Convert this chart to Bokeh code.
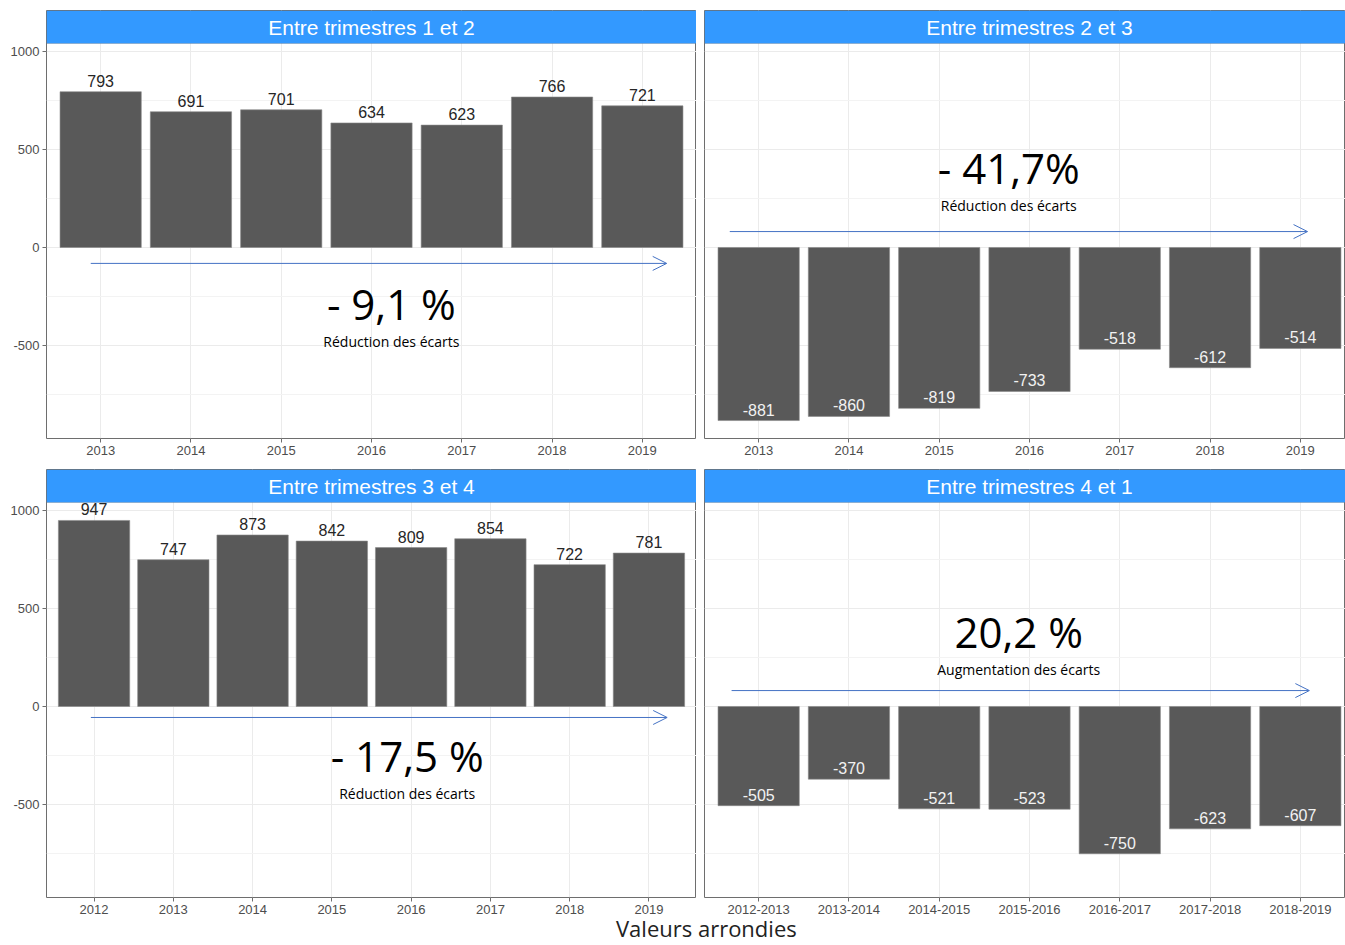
from bokeh.plotting import figure
from bokeh.models import (ColumnDataSource, FixedTicker, Range1d, BoxAnnotation,
                          Label, Arrow, OpenHead, Div)
from bokeh.layouts import column, row
from bokeh.embed import file_html
from bokeh.resources import INLINE
from bokeh.core.properties import value, field

# ---------------- data ----------------
years_12 = ["2013", "2014", "2015", "2016", "2017", "2018", "2019"]
values_12 = [793, 691, 701, 634, 623, 766, 721]

years_23 = ["2013", "2014", "2015", "2016", "2017", "2018", "2019"]
values_23 = [-881, -860, -819, -733, -518, -612, -514]

years_34 = ["2012", "2013", "2014", "2015", "2016", "2017", "2018", "2019"]
values_34 = [947, 747, 873, 842, 809, 854, 722, 781]

periods_41 = ["2012-2013", "2013-2014", "2014-2015", "2015-2016",
              "2016-2017", "2017-2018", "2018-2019"]
values_41 = [-505, -370, -521, -523, -750, -623, -607]

titles = ["Entre trimestres 1 et 2", "Entre trimestres 2 et 3",
          "Entre trimestres 3 et 4", "Entre trimestres 4 et 1"]
changes = ["- 9,1 %", "- 41,7%", "- 17,5 %", "20,2 %"]
captions = ["Réduction des écarts", "Réduction des écarts",
            "Réduction des écarts", "Augmentation des écarts"]
y_ticks = [-500, 0, 500, 1000]
y_tick_labels = ["-500", "0", "500", "1000"]
y_minor = [-750, -250, 250, 750]
footer = "Valeurs arrondies"

# hand-placed annotations (big text xy, caption xy, arrow x0, x1, y)
annots = [
    dict(big=(4.22, -285), cap=(4.22, -478), arrow=(0.89, 7.27, -81)),
    dict(big=(3.77, 407), cap=(3.77, 214), arrow=(0.68, 7.08, 81)),
    dict(big=(4.95, -249), cap=(4.95, -443), arrow=(0.96, 8.23, -56)),
    dict(big=(3.88, 382), cap=(3.88, 188), arrow=(0.70, 7.10, 81)),
]

# ---------------- styling ----------------
BAR = "#595959"
HEADER = "#3399ff"
BORDER = "#6e6e6e"
ARROW = "#4472c4"
GRID = "#ebebeb"
GRID_MINOR = "#f3f3f3"
TICK_TXT = "#4d4d4d"
FRAME_W = 650
RIGHT_FRAME_W = 641
PLOT_H = 395
HDR_H = 33

all_vals = values_12 + values_23 + values_34 + values_41
lo, hi = min(all_vals), max(all_vals)
pad = 0.05 * (hi - lo)
y0, y1 = lo - pad, hi + pad
hdr = (y1 - y0) * HDR_H / PLOT_H


def panel(cats, vals, title, change, caption, ann, left, top):
    n = len(cats)
    xs = list(range(1, n + 1))
    unit_px = FRAME_W / (n + 0.2)
    fw = FRAME_W if left else RIGHT_FRAME_W
    xend = 0.4 + fw / unit_px
    p = figure(frame_width=fw, frame_height=PLOT_H + HDR_H,
               x_range=Range1d(0.4, xend), y_range=Range1d(y0, y1 + hdr),
               output_backend="svg", toolbar_location=None, tools="",
               min_border_left=46 if left else 8, min_border_right=0,
               min_border_top=10 if top else 2,
               min_border_bottom=29 if top else 20,
               background_fill_color="white", border_fill_color="white",
               outline_line_color=BORDER, outline_line_width=1)

    # axes
    p.xaxis.ticker = FixedTicker(ticks=xs)
    p.xaxis.major_label_overrides = {x: c for x, c in zip(xs, cats)}
    yt = FixedTicker(ticks=y_ticks, minor_ticks=y_minor)
    p.yaxis.ticker = yt
    p.yaxis.major_label_overrides = {t: s for t, s in zip(y_ticks, y_tick_labels)}
    p.ygrid.ticker = yt
    for ax in (p.xaxis[0], p.yaxis[0]):
        ax.axis_line_color = None
        ax.major_tick_out = 4
        ax.major_tick_in = 0
        ax.major_tick_line_color = BORDER
        ax.minor_tick_line_color = None
        ax.major_label_standoff = 3
        ax.major_label_text_font = "Liberation Sans"
        ax.major_label_text_font_size = "13px"
        ax.major_label_text_color = TICK_TXT
    if not left:
        p.yaxis.visible = False

    p.xgrid.grid_line_color = GRID
    p.ygrid.grid_line_color = GRID
    p.ygrid.minor_grid_line_color = GRID_MINOR

    src = ColumnDataSource(dict(
        x=xs, v=vals, label=[str(v) for v in vals],
        color=["#262626" if v >= 0 else "#f2f2f2" for v in vals]))
    p.vbar(x="x", top="v", bottom=0, width=0.9, source=src,
           fill_color=BAR, line_color="#8a8a8a", line_width=0.6)

    # annotation arrow + texts
    ax0, ax1, ay = ann["arrow"]
    p.add_layout(Arrow(end=OpenHead(size=14, line_color=ARROW, line_width=1),
                       x_start=ax0, y_start=ay, x_end=ax1, y_end=ay,
                       line_color=ARROW, line_width=1))
    bx, by = ann["big"]
    p.add_layout(Label(x=bx, y=by, text=change, text_align="center",
                       text_baseline="middle", text_font="Open Sans",
                       text_font_size="42px", text_color="black"))
    cx, cy = ann["cap"]
    p.add_layout(Label(x=cx, y=cy, text=caption, text_align="center",
                       text_baseline="middle", text_font="Open Sans",
                       text_font_size="14px", text_color="black"))

    # facet strip header
    p.add_layout(BoxAnnotation(bottom=y1, fill_color=HEADER, fill_alpha=1.0,
                               line_color=BORDER, line_width=1))
    p.add_layout(Label(x=(n + 1) / 2, y=y1 + hdr / 2, text=title,
                       text_align="center", text_baseline="middle",
                       text_font="Liberation Sans", text_font_size="21px",
                       text_color="white"))

    # value labels (drawn on top, like the reference)
    p.text(x="x", y="v", text="label", source=src, text_align="center",
           text_baseline="bottom", y_offset=-5, level="overlay",
           text_font=value("Liberation Sans"), text_font_size="16px",
           text_color=field("color"))
    return p


p1 = panel(years_12, values_12, titles[0], changes[0], captions[0], annots[0], True, True)
p2 = panel(years_23, values_23, titles[1], changes[1], captions[1], annots[1], False, True)
p3 = panel(years_34, values_34, titles[2], changes[2], captions[2], annots[2], True, False)
p4 = panel(periods_41, values_41, titles[3], changes[3], captions[3], annots[3], False, False)

div = Div(text=('<div style="position:relative; top:-6px; margin-left:611px; '
                'font-family:\'Open Sans\'; font-size:22px; line-height:24px; '
                'color:#222; white-space:nowrap;">' + footer + '</div>'),
          width=1000, height=24)

layout = column(row(p1, p2), row(p3, p4), div)

open("out.html", "w").write(file_html(layout, INLINE))
